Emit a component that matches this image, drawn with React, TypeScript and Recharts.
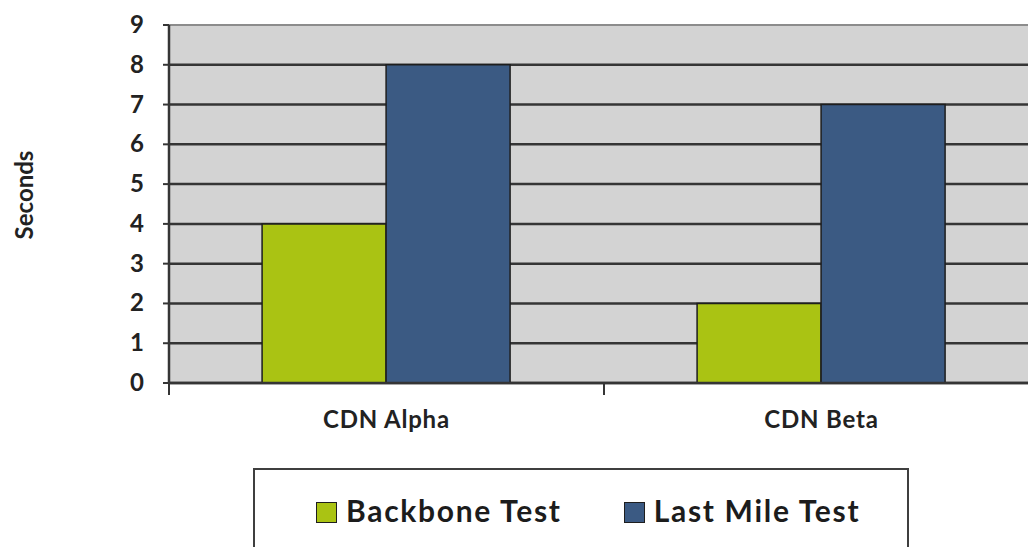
import React from 'react';
import { BarChart, Bar, XAxis, YAxis, CartesianGrid, Legend, Label } from 'recharts';

// Load times per CDN, in seconds
const categories = ['CDN Alpha', 'CDN Beta'];
const backboneTest = [4, 2];
const lastMileTest = [8, 7];
const secondTicks = [0, 1, 2, 3, 4, 5, 6, 7, 8, 9];

const seriesNames = { backbone: 'Backbone Test', lastMile: 'Last Mile Test' };
const GREEN = '#aac313';
const BLUE = '#3b5a83';
const FONT = 'Lato, "Open Sans", sans-serif';

const data = categories.map((name, i) => ({
  name,
  backbone: backboneTest[i],
  lastMile: lastMileTest[i],
}));

// Horizontal grid: dark rules, with a lighter line on the top edge of the plot
const GridLine = (props: any) => {
  const { x1, y1, x2, y2, y } = props;
  const isTop = Math.abs(y1 - y) < 1;
  return (
    <line
      x1={x1}
      y1={y1}
      x2={x2}
      y2={y2}
      stroke={isTop ? '#8c8c8c' : '#353535'}
      strokeWidth={isTop ? 2 : 2.5}
    />
  );
};

// Category label with tick marks on the band boundaries
const CategoryTick = (props: any) => {
  const { x, y, payload, width, visibleTicksCount } = props;
  const half = width / (2 * visibleTicksCount);
  return (
    <g>
      <line x1={x - half} x2={x - half} y1={y} y2={y + 12} stroke="#353535" strokeWidth={2} />
      <line x1={x + half} x2={x + half} y1={y} y2={y + 10} stroke="#353535" strokeWidth={2} />
      <text
        x={x}
        y={y + 45}
        textAnchor="middle"
        fontFamily={FONT}
        fontWeight={700}
        fontSize={24}
        letterSpacing={0.8}
        fill="#222"
      >
        {payload.value}
      </text>
    </g>
  );
};

const SecondsTick = (props: any) => {
  const { x, y, payload } = props;
  return (
    <text
      x={x}
      y={y}
      dy={8}
      textAnchor="end"
      fontFamily={FONT}
      fontWeight={700}
      fontSize={24}
      fill="#222"
    >
      {payload.value}
    </text>
  );
};

const SecondsLabel = (props: any) => {
  const { viewBox } = props;
  const cx = viewBox.x + 23;
  const cy = viewBox.y + viewBox.height / 2 - 9;
  return (
    <text
      x={cx}
      y={cy}
      transform={`rotate(-90, ${cx}, ${cy})`}
      textAnchor="middle"
      dominantBaseline="central"
      fontFamily={FONT}
      fontWeight={700}
      fontSize={24}
      fill="#222"
    >
      Seconds
    </text>
  );
};

const LegendBox = (props: any) => {
  const { payload } = props;
  return (
    <div
      style={{
        boxSizing: 'border-box',
        width: '100%',
        height: '100%',
        border: '2px solid #3f3f3f',
        background: '#fff',
        display: 'flex',
        alignItems: 'flex-start',
        paddingLeft: 61,
        paddingTop: 20,
        fontFamily: FONT,
      }}
    >
      {(payload || []).map((entry: any, i: number) => (
        <div
          key={entry.value}
          style={{ display: 'flex', alignItems: 'center', marginRight: i === 0 ? 62 : 0 }}
        >
          <span
            style={{
              display: 'inline-block',
              boxSizing: 'border-box',
              width: 21,
              height: 21,
              background: entry.color,
              border: '1.5px solid #1e1e1e',
              marginRight: 9,
              marginTop: 4,
            }}
          />
          <span
            style={{
              fontSize: 30,
              fontWeight: 700,
              color: '#1c1c1c',
              lineHeight: '40px',
              letterSpacing: 1.7,
            }}
          >
            {entry.value}
          </span>
        </div>
      ))}
    </div>
  );
};

export default function App() {
  return (
    <div
      style={{
        position: 'fixed',
        left: 0,
        top: 0,
        width: 1028,
        height: 547,
        overflow: 'hidden',
        background: '#fff',
      }}
    >
      <BarChart
        width={1101}
        height={547}
        data={data}
        margin={{ top: 25, right: 62, left: 0, bottom: 104 }}
        barCategoryGap="21.4%"
        barGap={0}
      >
        <CartesianGrid fill="#d3d3d3" vertical={false} horizontal={GridLine} />
        <XAxis
          dataKey="name"
          height={60}
          interval={0}
          tickLine={false}
          tickSize={0}
          tickMargin={0}
          axisLine={{ stroke: '#353535', strokeWidth: 2.5 }}
          tick={CategoryTick}
        />
        <YAxis
          width={169}
          domain={[0, 9]}
          ticks={secondTicks}
          interval={0}
          tickSize={6}
          tickMargin={19}
          tickLine={{ stroke: '#353535', strokeWidth: 2 }}
          axisLine={{ stroke: '#353535', strokeWidth: 2.5 }}
          tick={SecondsTick}
        >
          <Label content={SecondsLabel} />
        </YAxis>
        <Legend
          layout="horizontal"
          verticalAlign="middle"
          align="center"
          wrapperStyle={{ left: 253, top: 468, width: 656, height: 110 }}
          content={LegendBox}
        />
        <Bar
          dataKey="backbone"
          name={seriesNames.backbone}
          fill={GREEN}
          stroke="#1e1e1e"
          strokeWidth={1.5}
          isAnimationActive={false}
        />
        <Bar
          dataKey="lastMile"
          name={seriesNames.lastMile}
          fill={BLUE}
          stroke="#1e1e1e"
          strokeWidth={1.5}
          isAnimationActive={false}
        />
      </BarChart>
    </div>
  );
}
